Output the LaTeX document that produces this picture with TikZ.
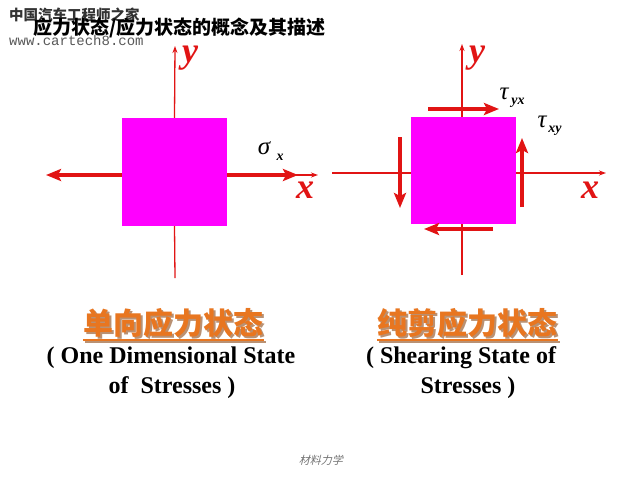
\documentclass[tikz,border=0pt]{standalone}
\usepackage{fontspec}
\setmainfont{Liberation Serif}
\newfontfamily\cjk{Noto Sans CJK SC}
\newfontfamily\monof{Liberation Mono}
\usetikzlibrary{arrows.meta}
\definecolor{axred}{RGB}{225,20,20}
\definecolor{mag}{RGB}{255,0,255}
\definecolor{orng}{RGB}{232,118,32}
\definecolor{shad}{RGB}{185,145,115}
\newcommand{\shadtext}[1]{\makebox[0pt][l]{\hspace{2pt}\raisebox{-2pt}{\textcolor{shad}{#1}}}\textcolor{orng}{#1}}
\tikzset{
  axis/.style={axred, line width=1.3pt, -{Stealth[length=7pt,width=5pt]}},
  force/.style={axred, line width=4pt, -{Stealth[length=15pt,width=12pt,inset=3pt]}},
  elem/.style={fill=mag, draw=none, inner sep=0pt},
  axlab/.style={text=axred, font=\fontsize{36}{36}\selectfont\bfseries\itshape, inner sep=0pt},
  greek/.style={font=\fontsize{25}{25}\selectfont\itshape, inner sep=0pt},
  sub/.style={font=\fontsize{14}{14}\selectfont\bfseries\itshape, inner sep=0pt},
  eng/.style={font=\fontsize{24}{24}\selectfont\bfseries, inner sep=0pt},
  head/.style={font=\cjk\fontsize{30}{30}\selectfont\bfseries, inner sep=0pt},
}
\begin{document}
\begin{tikzpicture}[x=1pt,y=-1pt]
\useasboundingbox[fill=white] (0,0) rectangle (640,480);
% watermark and title
\node[anchor=west, inner sep=0pt, text=black!80, font=\cjk\fontsize{14.5}{14.5}\selectfont\bfseries] (wm) at (9,15) {中国汽车工程师之家};
\node[anchor=west, inner sep=0pt, font=\cjk\fontsize{19}{19}\selectfont\bfseries] (title) at (33,28) {应力状态/应力状态的概念及其描述};
\node[anchor=west, inner sep=0pt, text=black!65, font=\monof\fontsize{14}{14}\selectfont] (url) at (9,40) {www.cartech8.com};

% ---------- left diagram ----------
\node[elem, minimum width=105pt, minimum height=108pt] (sqA) at (174.5,172) {};
\coordinate (Ay0) at (175,278);
\coordinate (Ay1) at (175,46);
\coordinate (Ax1) at (318,175);
\coordinate (AfR0) at (227,175);
\coordinate (AfR1) at (298,175);
\coordinate (AfL0) at (122,175);
\coordinate (AfL1) at (46,175);
\draw[axred, line width=1.3pt] (Ay0) -- (sqA.south);
\draw[axis] (sqA.north) -- (Ay1);
\draw[axis] (AfR0) -- (Ax1);
\draw[force] (AfR0) -- (AfR1);
\draw[force] (AfL0) -- (AfL1);
\node[axlab] (Ayl) at (190,58) {y};
\node[axlab] (Axl) at (305,190) {x};
\node[greek] (sig) at (264,148) {σ};
\node[sub] (sigs) at (280,157) {x};

% ---------- right diagram ----------
\coordinate (By0) at (462,275);
\coordinate (By1) at (462,44);
\coordinate (Bx0) at (332,173);
\coordinate (Bx1) at (606,173);
\draw[axis] (By0) -- (By1);
\draw[axis] (Bx0) -- (Bx1);
\node[elem, minimum width=105pt, minimum height=107pt] (sqB) at (463.5,170.5) {};
\coordinate (Bt0) at (428,109);
\coordinate (Bt1) at (499,109);
\coordinate (Bb0) at (493,229);
\coordinate (Bb1) at (424,229);
\coordinate (Bl0) at (400,137);
\coordinate (Bl1) at (400,208);
\coordinate (Br0) at (522,207);
\coordinate (Br1) at (522,138);
\draw[force] (Bt0) -- (Bt1);
\draw[force] (Bb0) -- (Bb1);
\draw[force] (Bl0) -- (Bl1);
\draw[force] (Br0) -- (Br1);
\node[axlab] (Byl) at (477,58) {y};
\node[axlab] (Bxl) at (590,190) {x};
\node[greek] (tau1) at (504,94) {τ};
\node[sub] (tau1s) at (518,103) {yx};
\node[greek] (tau2) at (542,122) {τ};
\node[sub] (tau2s) at (555,131) {xy};

% ---------- headings ----------
\node[head] (hA) at (173.5,324) {\shadtext{单向应力状态}};
\draw[shad, line width=1.5pt] ([yshift=-2pt,xshift=2pt]hA.south west) -- ([yshift=-2pt,xshift=2pt]hA.south east);
\draw[orng, line width=1.5pt] (hA.south west) -- (hA.south east);
\node[eng] (eA1) at (171,358) {( One Dimensional State};
\node[eng] (eA2) at (172,388) {of\ \ Stresses )};

\node[head] (hB) at (467.5,324) {\shadtext{纯剪应力状态}};
\draw[shad, line width=1.5pt] ([yshift=-2pt,xshift=2pt]hB.south west) -- ([yshift=-2pt,xshift=2pt]hB.south east);
\draw[orng, line width=1.5pt] (hB.south west) -- (hB.south east);
\node[eng] (eB1) at (461,358) {( Shearing State of};
\node[eng] (eB2) at (468,388) {Stresses )};

% footer
\node[inner sep=0pt, text=black!55, font=\cjk\fontsize{11}{11}\selectfont, xslant=0.25] (foot) at (322,460) {材料力学};
\end{tikzpicture}
\end{document}
